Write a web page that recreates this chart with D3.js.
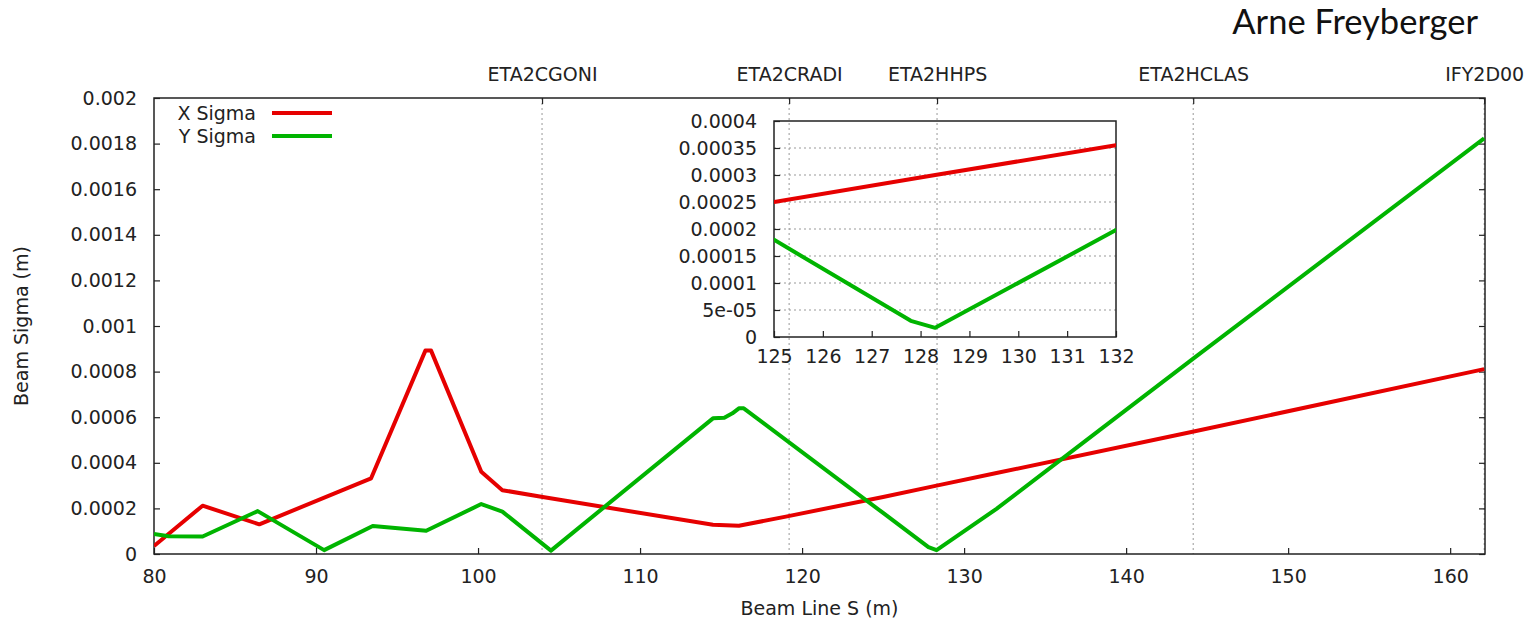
<!DOCTYPE html>
<html>
<head>
<meta charset="utf-8">
<script src="https://cdn.jsdelivr.net/npm/d3@7"></script>
<style>
  html, body { margin: 0; padding: 0; background: #fff; }
  svg { display: block; }
  text { font-family: "DejaVu Sans", sans-serif; fill: #222; }
</style>
</head>
<body>
<svg id="chart" width="1531" height="620"></svg>
<script>
// ---------- data ----------
const sX = [80, 83.0, 86.5, 93.4, 96.75, 97.1, 100.2, 101.5, 103.9, 114.5, 116.1, 119.0, 125, 128.3, 132, 144.1, 162.1];
const xSigma = [3.5e-5, 2.12e-4, 1.30e-4, 3.32e-4, 8.92e-4, 8.92e-4, 3.61e-4, 2.80e-4, 2.51e-4, 1.28e-4, 1.24e-4, 1.64e-4, 2.50e-4, 3.00e-4, 3.55e-4, 5.36e-4, 8.11e-4];

const sY = [80, 80.9, 83.0, 86.4, 90.5, 93.5, 96.8, 100.2, 101.5, 104.5, 114.5, 115.2, 115.7, 116.1, 116.4, 125, 127.8, 128.3, 132, 138.3, 144.1, 162.1];
const ySigma = [8.8e-5, 7.8e-5, 7.7e-5, 1.88e-4, 1.7e-5, 1.23e-4, 1.02e-4, 2.19e-4, 1.86e-4, 1.5e-5, 5.95e-4, 5.98e-4, 6.17e-4, 6.39e-4, 6.39e-4, 1.80e-4, 3.0e-5, 1.7e-5, 1.98e-4, 5.40e-4, 8.55e-4, 1.823e-3];

const seriesNames = ["X Sigma", "Y Sigma"];

const elementNames = ["ETA2CGONI", "ETA2CRADI", "ETA2HHPS", "ETA2HCLAS", "IFY2D00"];
const elementS = [103.95, 119.2, 128.33, 144.14, 162.1];

const xTicks = [80, 90, 100, 110, 120, 130, 140, 150, 160];
const yTicks = [0, 0.0002, 0.0004, 0.0006, 0.0008, 0.001, 0.0012, 0.0014, 0.0016, 0.0018, 0.002];
const yTickLabels = ["0", "0.0002", "0.0004", "0.0006", "0.0008", "0.001", "0.0012", "0.0014", "0.0016", "0.0018", "0.002"];

const insetXTicks = [125, 126, 127, 128, 129, 130, 131, 132];
const insetYTicks = [0, 0.00005, 0.0001, 0.00015, 0.0002, 0.00025, 0.0003, 0.00035, 0.0004];
const insetYTickLabels = ["0", "5e-05", "0.0001", "0.00015", "0.0002", "0.00025", "0.0003", "0.00035", "0.0004"];

const title = "Arne Freyberger";
const xLabel = "Beam Line S (m)";
const yLabel = "Beam Sigma (m)";

// ---------- layout ----------
const colors = ["#e60000", "#00b400"];
const FS = "19px";
const M = { left: 154, right: 1485, top: 98, bottom: 554 };
const I = { left: 774, right: 1116, top: 121, bottom: 337 };

const svg = d3.select("#chart");

const x = d3.scaleLinear().domain([80, 162.15]).range([M.left, M.right]);
const y = d3.scaleLinear().domain([0, 0.002]).range([M.bottom, M.top]);

const xs = d3.scaleLinear().domain([125, 132]).range([I.left, I.right]);
const ys = d3.scaleLinear().domain([0, 0.0004]).range([I.bottom, I.top]);

const seriesData = [
  sX.map((s, i) => [s, xSigma[i]]),
  sY.map((s, i) => [s, ySigma[i]])
];

// clip paths
const defs = svg.append("defs");
defs.append("clipPath").attr("id", "mainClip").append("rect")
  .attr("x", M.left).attr("y", M.top - 2).attr("width", M.right - M.left).attr("height", M.bottom - M.top + 4);
defs.append("clipPath").attr("id", "insetClip").append("rect")
  .attr("x", I.left).attr("y", I.top).attr("width", I.right - I.left).attr("height", I.bottom - I.top);

// title
svg.append("text").text(title)
  .attr("x", 1478).attr("y", 34)
  .attr("text-anchor", "end")
  .style("font-family", "Lato, 'Open Sans', sans-serif")
  .style("font-size", "34.5px")
  .style("fill", "#111");

// element vertical dashed lines
svg.append("g").selectAll("line").data(elementS).join("line")
  .attr("x1", d => x(d)).attr("x2", d => x(d))
  .attr("y1", M.top).attr("y2", M.bottom)
  .attr("stroke", "#999").attr("stroke-width", 1)
  .attr("stroke-dasharray", "2,3");

// main axes
function styleAxis(g) {
  g.select(".domain").remove();
  g.selectAll(".tick line").attr("stroke", "#222").attr("stroke-width", 1.2);
  g.selectAll(".tick text").style("font-size", FS).style("fill", "#222")
    .style("font-family", "'DejaVu Sans', sans-serif");
}

svg.append("g").attr("transform", `translate(0,${M.bottom})`)
  .call(d3.axisBottom(x).tickValues(xTicks).tickFormat(d3.format("d")).tickSize(-6).tickPadding(16))
  .call(styleAxis);

svg.append("g").attr("transform", `translate(${M.left},0)`)
  .call(d3.axisLeft(y).tickValues(yTicks).tickFormat((d, i) => yTickLabels[i]).tickSize(-6).tickPadding(17))
  .call(styleAxis);

svg.append("g").attr("transform", `translate(${M.right},0)`)
  .call(d3.axisRight(y).tickValues(yTicks).tickFormat("").tickSize(-6))
  .call(styleAxis);

svg.append("g").attr("transform", `translate(0,${M.top})`)
  .call(d3.axisTop(x).tickValues(elementS).tickFormat((d, i) => elementNames[i]).tickSize(-6).tickPadding(17))
  .call(styleAxis);

// main frame
svg.append("rect")
  .attr("x", M.left).attr("y", M.top)
  .attr("width", M.right - M.left).attr("height", M.bottom - M.top)
  .attr("fill", "none").attr("stroke", "#222").attr("stroke-width", 1.5);

// axis labels
svg.append("text").text(xLabel)
  .attr("x", (M.left + M.right) / 2).attr("y", 608)
  .attr("text-anchor", "middle").attr("dominant-baseline", "central")
  .style("font-size", FS);

svg.append("text").text(yLabel)
  .attr("transform", `translate(21,${(M.top + M.bottom) / 2}) rotate(-90)`)
  .attr("text-anchor", "middle").attr("dominant-baseline", "central")
  .style("font-size", FS);

// main lines
const lineMain = d3.line().x(d => x(d[0])).y(d => y(d[1]));
svg.append("g").attr("clip-path", "url(#mainClip)")
  .selectAll("path").data(seriesData).join("path")
  .attr("d", lineMain)
  .attr("fill", "none")
  .attr("stroke", (d, i) => colors[i])
  .attr("stroke-width", 4)
  .attr("stroke-linejoin", "round");

// legend
const leg = svg.append("g");
seriesNames.forEach((name, i) => {
  const ly = 113 + i * 23;
  leg.append("text").text(name)
    .attr("x", 256).attr("y", ly)
    .attr("text-anchor", "end").attr("dominant-baseline", "central")
    .style("font-size", FS);
  leg.append("line")
    .attr("x1", 272).attr("x2", 332).attr("y1", ly).attr("y2", ly)
    .attr("stroke", colors[i]).attr("stroke-width", 4);
});

// ---------- inset ----------
svg.append("g").selectAll("line").data(insetYTicks.filter(v => v > 0 && v < 0.0004)).join("line")
  .attr("x1", I.left).attr("x2", I.right)
  .attr("y1", d => ys(d)).attr("y2", d => ys(d))
  .attr("stroke", "#999").attr("stroke-width", 1)
  .attr("stroke-dasharray", "2,3");

svg.append("g").attr("transform", `translate(0,${I.bottom})`)
  .call(d3.axisBottom(xs).tickValues(insetXTicks).tickFormat(d3.format("d")).tickSize(-6).tickPadding(13))
  .call(styleAxis);

svg.append("g").attr("transform", `translate(${I.left},0)`)
  .call(d3.axisLeft(ys).tickValues(insetYTicks).tickFormat((d, i) => insetYTickLabels[i]).tickSize(-6).tickPadding(17))
  .call(styleAxis);

svg.append("rect")
  .attr("x", I.left).attr("y", I.top)
  .attr("width", I.right - I.left).attr("height", I.bottom - I.top)
  .attr("fill", "none").attr("stroke", "#222").attr("stroke-width", 1.5);

const lineInset = d3.line().x(d => xs(d[0])).y(d => ys(d[1]));
svg.append("g").attr("clip-path", "url(#insetClip)")
  .selectAll("path").data(seriesData).join("path")
  .attr("d", lineInset)
  .attr("fill", "none")
  .attr("stroke", (d, i) => colors[i])
  .attr("stroke-width", 4)
  .attr("stroke-linejoin", "round");
</script>
</body>
</html>
